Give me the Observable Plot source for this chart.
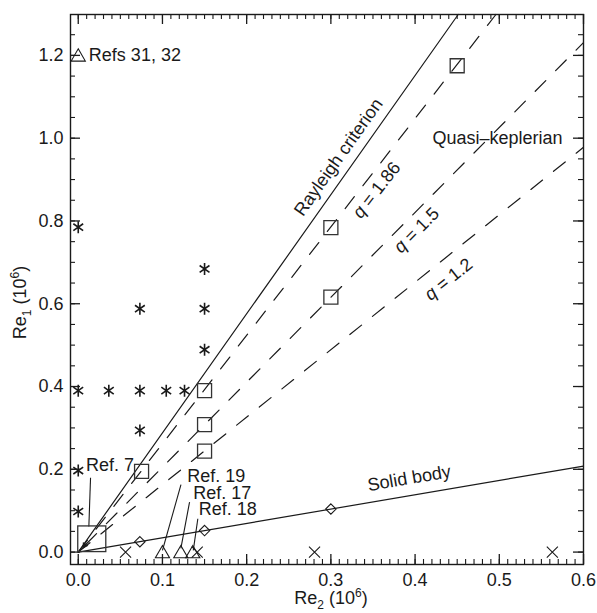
<!DOCTYPE html>
<html><head><meta charset="utf-8">
<script src="https://cdn.jsdelivr.net/npm/d3@7"></script>
<script src="https://cdn.jsdelivr.net/npm/@observablehq/plot@0.6"></script>
<style>body{margin:0;background:#fff;}</style>
</head><body><div id="chart"></div>
<script>
// ---- tick values and labels ----
const xMajorTicks = [0, 0.1, 0.2, 0.3, 0.4, 0.5, 0.6];
const xTickLabels = ["0.0", "0.1", "0.2", "0.3", "0.4", "0.5", "0.6"];
const yMajorTicks = [0, 0.2, 0.4, 0.6, 0.8, 1.0, 1.2];
const yTickLabels = ["0.0", "0.2", "0.4", "0.6", "0.8", "1.0", "1.2"];
const xMinorTicks = d3.range(0, 61).map(i => i / 100);
const yMinorTicks = d3.range(0, 26).map(i => i / 20);

// ---- regime lines (origin -> edge of frame) ----
const rayleighLine = [[0, 0], [0.4512, 1.2988]];
const solidBodyLine = [[0, 0], [0.6, 0.2077]];
const q186Line = [[0, 0], [0.496, 1.2988]];
const q15Line = [[0, 0], [0.6, 1.231]];
const q12Line = [[0, 0], [0.6, 0.978]];

// ---- data points (Re2, Re1) in 10^6 ----
const asteriskPts = [
  [0, 0.785], [0, 0.39], [0, 0.197], [0, 0.098],
  [0.0363, 0.39], [0.0732, 0.39], [0.1045, 0.39], [0.1262, 0.39],
  [0.0732, 0.588], [0.0732, 0.294],
  [0.15, 0.684], [0.15, 0.588], [0.15, 0.489]
];
const squarePts = [
  [0.45, 1.175], [0.3, 0.784], [0.3, 0.616],
  [0.15, 0.39], [0.15, 0.308], [0.15, 0.244], [0.0752, 0.195]
];
const diamondPts = [[0.0732, 0.025], [0.15, 0.052], [0.3, 0.104]];
const trianglePts = [[0, 1.2], [0.1, 0], [0.1218, 0], [0.136, 0]];
const crossPts = [[0.0562, 0], [0.1413, 0], [0.2806, 0], [0.563, 0]];
const ref7Box = [{x1: 0, x2: 0.0333, y1: 0, y2: 0.062}];
const arrowTip = [[0.0075, 0.016]];

// ---- reference annotations ----
const refLeaders = [
  {ref: "Ref. 7",  x1: 0.0146, y1: 0.1797, x2: 0.0126, y2: 0.0619},
  {ref: "Ref. 19", x1: 0.122,  y1: 0.163,  x2: 0.1000, y2: 0.004},
  {ref: "Ref. 17", x1: 0.1322, y1: 0.1207, x2: 0.1219, y2: 0.009},
  {ref: "Ref. 18", x1: 0.142,  y1: 0.0805, x2: 0.1366, y2: 0.004}
];
const refLabels = [
  {text: "Ref. 7",  x: 0.0093, y: 0.211},
  {text: "Ref. 19", x: 0.1295, y: 0.183},
  {text: "Ref. 17", x: 0.1366, y: 0.143},
  {text: "Ref. 18", x: 0.1432, y: 0.1025},
  {text: "Refs 31, 32", x: 0.0126, y: 1.2}
];

const ink = "#1a1a1a";
const FONT = '"Liberation Sans", Arial, Helvetica, sans-serif';

const asteriskSymbol = {
  draw(ctx, size) {
    const r = Math.sqrt(size / Math.PI);
    ctx.moveTo(0, -r); ctx.lineTo(0, r);
    const a = 35 * Math.PI / 180;
    const dx = r * Math.cos(a), dy = r * Math.sin(a);
    ctx.moveTo(-dx, -dy); ctx.lineTo(dx, dy);
    ctx.moveTo(-dx, dy); ctx.lineTo(dx, -dy);
  }
};

const P = d => d[0], Q = d => d[1];
const solidStyle = {x: P, y: Q, stroke: ink, strokeWidth: 1.2};
const dashStyle = {x: P, y: Q, stroke: ink, strokeWidth: 1.2, strokeDasharray: "15,14"};

const chart = Plot.plot({
  width: 597, height: 613,
  marginLeft: 70, marginRight: 14, marginTop: 14, marginBottom: 49,
  x: {domain: [-0.0092, 0.6]},
  y: {domain: [-0.03, 1.2988]},
  style: {fontFamily: FONT, fontSize: "18px", color: ink, background: "#fff"},
  marks: [
    // ticks (inward, on all four sides)
    Plot.tickX(xMinorTicks, {x: d => d, insetTop: 545, stroke: ink, strokeWidth: 1.1}),
    Plot.tickX(xMinorTicks, {x: d => d, insetBottom: 545, stroke: ink, strokeWidth: 1.1}),
    Plot.tickX(xMajorTicks, {x: d => d, insetTop: 540, stroke: ink, strokeWidth: 1.3}),
    Plot.tickX(xMajorTicks, {x: d => d, insetBottom: 540, stroke: ink, strokeWidth: 1.3}),
    Plot.tickY(yMinorTicks, {y: d => d, insetRight: 508, stroke: ink, strokeWidth: 1.1}),
    Plot.tickY(yMinorTicks, {y: d => d, insetLeft: 508, stroke: ink, strokeWidth: 1.1}),
    Plot.tickY(yMajorTicks, {y: d => d, insetRight: 503, stroke: ink, strokeWidth: 1.3}),
    Plot.tickY(yMajorTicks, {y: d => d, insetLeft: 503, stroke: ink, strokeWidth: 1.3}),
    Plot.axisX(xMajorTicks, {anchor: "bottom", tickSize: 0, tickPadding: 9, fontSize: 18,
      tickFormat: d => xTickLabels[xMajorTicks.indexOf(d)], label: null}),
    Plot.axisY(yMajorTicks, {anchor: "left", tickSize: 0, tickPadding: 7, fontSize: 18,
      tickFormat: d => yTickLabels[yMajorTicks.indexOf(d)], label: null}),
    // regime lines
    Plot.line(rayleighLine, solidStyle),
    Plot.line(solidBodyLine, solidStyle),
    Plot.line(q186Line, dashStyle),
    Plot.line(q15Line, {...dashStyle, strokeDashoffset: 18}),
    Plot.line(q12Line, dashStyle),
    // line labels
    Plot.text(["Rayleigh criterion"], {x: 0.3091, y: 0.954, rotate: -54.7, fontSize: 18, fill: ink}),
    Plot.text(["q = 1.86"], {x: 0.3543, y: 0.8745, rotate: -52.1, fontSize: 18, fill: ink}),
    Plot.text(["q = 1.5"], {x: 0.4018, y: 0.7775, rotate: -45.2, fontSize: 18, fill: ink}),
    Plot.text(["q = 1.2"], {x: 0.4398, y: 0.659, rotate: -38.7, fontSize: 18, fill: ink}),
    Plot.text(["Solid body"], {x: 0.3929, y: 0.178, rotate: -9.65, fontSize: 18, fill: ink}),
    Plot.text(["Quasi–keplerian"], {x: 0.4979, y: 1.0, fontSize: 18, fill: ink}),
    // reference leaders and labels
    Plot.link(refLeaders, {x1: "x1", y1: "y1", x2: "x2", y2: "y2", stroke: ink, strokeWidth: 1.1}),
    Plot.text(refLabels, {x: "x", y: "y", text: "text", textAnchor: "start", fontSize: 18, fill: ink}),
    Plot.rect(ref7Box, {x1: "x1", x2: "x2", y1: "y1", y2: "y2", fill: "none", stroke: "#333", strokeWidth: 1.3}),
    Plot.dot(arrowTip, {x: P, y: Q, symbol: "triangle2", r: 3.2, fill: ink, stroke: "none", rotate: 215}),
    // data markers
    Plot.dot(asteriskPts, {x: P, y: Q, symbol: asteriskSymbol, r: 6, stroke: ink, strokeWidth: 1.6, fill: "none"}),
    Plot.dot(squarePts, {x: P, y: Q, symbol: "square", r: 7.9, stroke: "#333", strokeWidth: 1.3, fill: "none"}),
    Plot.dot(diamondPts, {x: P, y: Q, symbol: "diamond2", r: 4.7, stroke: ink, strokeWidth: 1.1, fill: "none"}),
    Plot.dot(trianglePts, {x: P, y: Q, symbol: "triangle", r: 5.25, dy: 1.6, stroke: ink, strokeWidth: 1.1, fill: "none"}),
    Plot.dot(crossPts, {x: P, y: Q, symbol: "times", r: 5.1, stroke: ink, strokeWidth: 1.1, fill: "none"}),
    // axis titles
    Plot.text(["Re1 (106)"], {frameAnchor: "left", textAnchor: "middle", lineAnchor: "middle",
      rotate: -90, dx: -50, dy: 13, fontSize: 18, fill: ink}),
    Plot.text(["Re2 (106)"], {frameAnchor: "bottom", textAnchor: "middle", lineAnchor: "middle",
      dx: 4, dy: 34, fontSize: 18, fill: ink}),
    Plot.frame({stroke: ink, strokeWidth: 1.4})
  ]
});
document.getElementById("chart").appendChild(chart);

// rich text: italic q, subscripts and superscripts
const NS = "http://www.w3.org/2000/svg";
function rich(el, parts) {
  while (el.firstChild) el.removeChild(el.firstChild);
  let shift = 0;
  for (const p of parts) {
    const ts = document.createElementNS(NS, "tspan");
    const target = p.sub ? 5 : p.sup ? -7 : 0;
    const dy = target - shift;
    shift = target;
    if (dy) ts.setAttribute("dy", dy);
    if (p.sub || p.sup) ts.setAttribute("font-size", "12");
    if (p.italic) ts.setAttribute("font-style", "italic");
    ts.textContent = p.t;
    el.appendChild(ts);
  }
}
d3.select(chart).selectAll("text").each(function () {
  const t = this.textContent;
  if (t === "Re1 (106)") rich(this, [{t: "Re"}, {t: "1", sub: true}, {t: " (10"}, {t: "6", sup: true}, {t: ")"}]);
  else if (t === "Re2 (106)") rich(this, [{t: "Re"}, {t: "2", sub: true}, {t: " (10"}, {t: "6", sup: true}, {t: ")"}]);
  else if (t.startsWith("q = ")) rich(this, [{t: "q", italic: true}, {t: t.slice(1)}]);
});
</script>
</body></html>
